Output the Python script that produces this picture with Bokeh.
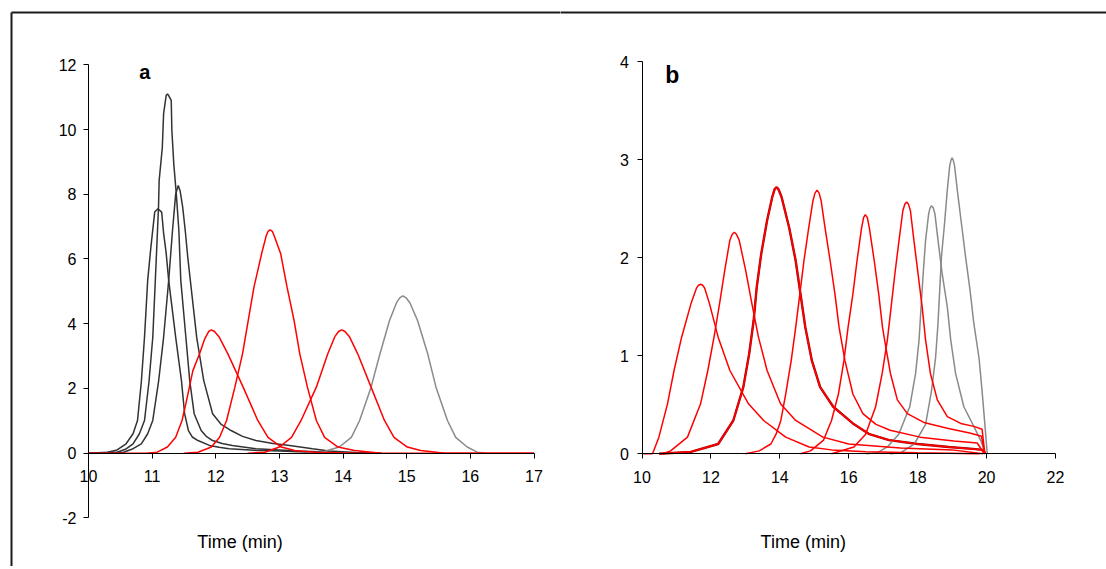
from bokeh.plotting import figure
from bokeh.models import Range1d, FixedTicker, Label
from bokeh.layouts import row
from bokeh.embed import file_html
from bokeh.resources import INLINE

FONT = "Liberation Sans"

# ---------------- panel a ----------------
a_xticks = [10, 11, 12, 13, 14, 15, 16, 17]
a_yticks = [-2, 0, 2, 4, 6, 8, 10, 12]
a_ylabels = ["-2", "0", "2", "4", "6", "8", "10", "12"]

a_b1_x = [10.00, 10.30, 10.45, 10.59, 10.70, 10.77, 10.83, 10.88, 10.93, 10.98, 11.04, 11.09,
          11.15, 11.18, 11.22, 11.26, 11.37, 11.46, 11.51, 11.57, 11.63, 11.72, 11.90, 12.05,
          12.21, 12.60, 13.00, 13.50, 14.00]
a_b1_y = [0, 0.03, 0.10, 0.29, 0.60, 1.01, 2.20, 3.58, 5.34, 6.36, 7.45, 7.55,
          7.45, 6.80, 6.19, 5.34, 3.58, 2.25, 1.22, 0.70, 0.50, 0.39, 0.24, 0.18,
          0.14, 0.09, 0.07, 0.03, 0.0]

a_b2_x = [10.00, 10.45, 10.58, 10.70, 10.80, 10.88, 10.95, 11.01, 11.05, 11.10, 11.11, 11.16,
          11.18, 11.22, 11.24, 11.26, 11.30, 11.31, 11.34, 11.38, 11.42, 11.45, 11.53, 11.59,
          11.66, 11.77, 11.85, 11.95, 12.10, 12.26, 12.63, 13.30, 13.90]
a_b2_y = [0, 0.03, 0.12, 0.29, 0.60, 1.01, 2.20, 3.58, 5.34, 7.60, 8.42, 9.45,
          10.49, 11.05, 11.10, 11.05, 10.90, 9.97, 8.94, 8.00, 6.88, 5.34, 3.58, 2.25,
          1.22, 0.70, 0.52, 0.39, 0.30, 0.24, 0.14, 0.07, 0.02]

a_b3_x = [10.00, 10.55, 10.68, 10.83, 10.93, 11.01, 11.10, 11.18, 11.26, 11.32, 11.37, 11.41,
          11.44, 11.48, 11.52, 11.56, 11.60, 11.70, 11.81, 11.95, 12.08, 12.24, 12.42, 12.63,
          12.90, 13.16, 13.52, 13.78, 14.20, 14.60]
a_b3_y = [0, 0.03, 0.12, 0.29, 0.60, 1.01, 2.20, 3.58, 5.34, 6.88, 8.01, 8.27,
          8.10, 7.60, 6.88, 6.05, 5.34, 3.58, 2.25, 1.22, 0.90, 0.70, 0.52, 0.39,
          0.30, 0.24, 0.14, 0.07, 0.02, 0.0]

a_r1_x = [10.00, 10.90, 11.08, 11.24, 11.37, 11.47, 11.53, 11.585, 11.64, 11.745, 11.83, 11.89,
          11.93, 11.98, 12.05, 12.19, 12.43, 12.66, 12.82, 13.03, 13.24, 13.55, 14.20, 17.00]
a_r1_y = [0, 0, 0.03, 0.19, 0.49, 1.01, 1.53, 2.04, 2.55, 3.07, 3.55, 3.76,
          3.81, 3.76, 3.60, 3.07, 2.04, 1.01, 0.49, 0.19, 0.08, 0.03, 0.0, 0.0]

a_r2_x = [11.50, 11.72, 11.93, 12.06, 12.17, 12.30, 12.42, 12.51, 12.60, 12.72, 12.79, 12.82,
          12.85, 12.89, 12.92, 13.02, 13.12, 13.23, 13.32, 13.44, 13.58, 13.71, 13.92, 14.18,
          14.60]
a_r2_y = [0, 0.03, 0.19, 0.49, 1.01, 2.04, 3.07, 4.10, 5.13, 6.16, 6.70, 6.85,
          6.90, 6.85, 6.70, 6.16, 5.13, 4.10, 3.07, 2.04, 1.01, 0.49, 0.19, 0.08,
          0.0]

a_r3_x = [12.50, 12.77, 13.00, 13.19, 13.34, 13.58, 13.76, 13.87, 13.93, 13.98, 14.03, 14.10,
          14.23, 14.44, 14.65, 14.80, 15.01, 15.22, 15.60, 17.00]
a_r3_y = [0, 0.03, 0.19, 0.49, 1.01, 2.04, 3.07, 3.60, 3.76, 3.81, 3.76, 3.60,
          3.07, 2.04, 1.01, 0.49, 0.19, 0.08, 0.0, 0.0]

a_g1_x = [13.40, 13.66, 13.94, 14.13, 14.26, 14.44, 14.58, 14.73, 14.84, 14.89, 14.94, 14.99,
          15.05, 15.17, 15.33, 15.46, 15.64, 15.77, 15.95, 16.11, 16.25]
a_g1_y = [0, 0.03, 0.19, 0.49, 1.01, 2.04, 3.07, 4.10, 4.65, 4.80, 4.86, 4.80,
          4.65, 4.10, 3.07, 2.04, 1.01, 0.49, 0.19, 0.03, 0.0]

# ---------------- panel b ----------------
b_xticks = [10, 12, 14, 16, 18, 20, 22]
b_yticks = [0, 1, 2, 3, 4]

b_p1_x = [10.00, 10.30, 10.34, 10.49, 10.74, 10.93, 11.15, 11.42, 11.58, 11.64, 11.70, 11.76,
          11.82, 11.96, 12.21, 12.55, 13.09, 13.53, 14.17, 14.85, 15.50, 16.50, 18.00, 19.80]
b_p1_y = [0, 0, 0.03, 0.17, 0.51, 0.85, 1.19, 1.53, 1.69, 1.72, 1.73, 1.72,
          1.69, 1.53, 1.19, 0.85, 0.51, 0.34, 0.17, 0.07, 0.04, 0.02, 0.01, 0.0]

b_p2_x = [10.60, 10.83, 11.32, 11.70, 11.91, 12.09, 12.25, 12.40, 12.55, 12.62, 12.68, 12.74,
          12.82, 13.01, 13.19, 13.38, 13.63, 14.02, 14.46, 15.25, 16.00, 17.50, 19.00, 19.90]
b_p2_y = [0, 0.03, 0.17, 0.51, 0.85, 1.19, 1.53, 1.87, 2.18, 2.24, 2.26, 2.24,
          2.18, 1.87, 1.53, 1.19, 0.85, 0.51, 0.34, 0.17, 0.10, 0.06, 0.04, 0.0]

b_p3_x = [10.50, 11.42, 12.21, 12.65, 12.94, 13.11, 13.24, 13.33, 13.46, 13.63, 13.78, 13.85,
          13.90, 13.96, 14.05, 14.27, 14.46, 14.60, 14.74, 14.93, 15.17, 15.55, 16.12, 16.60,
          17.17, 18.00, 18.90, 19.60, 19.90, 19.97]
b_p3_y = [0, 0.02, 0.10, 0.34, 0.68, 1.02, 1.36, 1.70, 2.04, 2.38, 2.62, 2.70,
          2.72, 2.70, 2.62, 2.31, 1.97, 1.63, 1.29, 0.95, 0.68, 0.48, 0.31, 0.20,
          0.14, 0.10, 0.07, 0.05, 0.04, 0.0]

b_p4_x = [13.00, 13.40, 13.74, 13.89, 14.03, 14.17, 14.33, 14.46, 14.58, 14.70, 14.84, 14.96,
          15.02, 15.08, 15.14, 15.20, 15.31, 15.46, 15.60, 15.72, 15.89, 16.12, 16.41, 16.79,
          17.20, 18.07, 19.05, 19.73, 19.93]
b_p4_y = [0, 0.03, 0.10, 0.20, 0.34, 0.61, 0.95, 1.29, 1.63, 1.97, 2.31, 2.58,
          2.66, 2.69, 2.66, 2.58, 2.31, 1.97, 1.63, 1.29, 0.95, 0.61, 0.41, 0.30,
          0.24, 0.17, 0.13, 0.11, 0.0]

b_p5_x = [14.60, 14.89, 15.27, 15.50, 15.70, 15.86, 15.98, 16.12, 16.24, 16.37, 16.43, 16.48,
          16.54, 16.60, 16.74, 16.87, 16.98, 17.07, 17.21, 17.41, 17.70, 18.18, 18.86, 19.54,
          19.85, 19.95]
b_p5_y = [0, 0.03, 0.14, 0.34, 0.61, 0.95, 1.29, 1.63, 1.97, 2.30, 2.41, 2.44,
          2.41, 2.30, 1.97, 1.63, 1.29, 1.10, 0.82, 0.55, 0.41, 0.32, 0.26, 0.21,
          0.18, 0.0]

b_p6_x = [15.50, 16.15, 16.49, 16.78, 16.97, 17.12, 17.23, 17.34, 17.46, 17.57, 17.63, 17.68,
          17.73, 17.79, 17.89, 18.01, 18.13, 18.23, 18.37, 18.57, 18.86, 19.25, 19.63, 19.87,
          19.95]
b_p6_y = [0, 0.07, 0.20, 0.48, 0.82, 1.16, 1.50, 1.84, 2.18, 2.48, 2.55, 2.57,
          2.55, 2.48, 2.18, 1.84, 1.50, 1.16, 0.82, 0.55, 0.38, 0.31, 0.28, 0.25,
          0.0]

b_g1_x = [16.50, 16.82, 17.12, 17.45, 17.77, 17.94, 18.04, 18.10, 18.16, 18.23, 18.32, 18.36,
          18.40, 18.45, 18.50, 18.59, 18.71, 18.86, 18.96, 19.10, 19.34, 19.63, 19.83, 19.97]
b_g1_y = [0, 0.01, 0.07, 0.20, 0.48, 0.82, 1.16, 1.50, 1.84, 2.18, 2.45, 2.51,
          2.53, 2.51, 2.45, 2.18, 1.84, 1.50, 1.16, 0.82, 0.48, 0.28, 0.135, 0.0]

b_g2_x = [17.20, 17.50, 17.90, 18.23, 18.40, 18.52, 18.59, 18.64, 18.69, 18.78, 18.86, 18.93,
          18.97, 19.00, 19.03, 19.07, 19.15, 19.27, 19.39, 19.52, 19.63, 19.78, 19.87, 19.95,
          20.02]
b_g2_y = [0, 0.01, 0.10, 0.30, 0.64, 0.98, 1.33, 1.67, 2.01, 2.35, 2.69, 2.94,
          3.00, 3.02, 3.00, 2.94, 2.69, 2.35, 2.01, 1.67, 1.33, 0.98, 0.64, 0.30,
          0.0]

BLACK = "#333333"
RED = "#ff0000"
GRAY = "#8a8a8a"
AXIS = "#000000"
FRAME = "#1a1a1a"
LW = 1.5

# ---------- layout targets (pixels on the page) ----------
H = 566
W1, W2 = 560, 546
# panel a: x=10 -> 88 px, x=17 -> 533.5 px ; y=12 -> 64.3 px, y=-2 -> 517.4 px
a_kx = (533.5 - 88.0) / 7.0
a_ky = (517.4 - 64.3) / 14.0
a_x0 = 10 - 88.0 / a_kx
a_y1 = 12 + 64.3 / a_ky
# panel b: x=10 -> 641.5 px, x=22 -> 1055 px ; y=4 -> 61.3 px, y=0 -> 453.3 px
b_kx = (1055.0 - 641.5) / 12.0
b_ky = (453.3 - 61.3) / 4.0
b_x0 = 10 - (641.5 - W1) / b_kx
b_y1 = 4 + 61.3 / b_ky
# outer box of the original figure: left edge 11 px, top edge 12 px
BOX_LEFT, BOX_TOP = 11.0, 12.0


def make_fig(width, x0, kx, y1, ky):
    p = figure(width=width, height=H,
               x_range=Range1d(x0, x0 + width / kx), y_range=Range1d(y1 - H / ky, y1),
               min_border=0, min_border_left=0, min_border_right=0,
               min_border_top=0, min_border_bottom=0,
               output_backend="svg", toolbar_location=None)
    p.grid.visible = False
    p.outline_line_color = None
    p.background_fill_color = "white"
    p.border_fill_color = "white"
    for ax in (p.xaxis, p.yaxis):
        ax.major_tick_out = 5
        ax.major_tick_in = 0
        ax.minor_tick_line_color = None
        ax.axis_line_color = AXIS
        ax.axis_line_width = 1
        ax.major_tick_line_color = AXIS
        ax.major_label_text_font = FONT
        ax.major_label_text_font_size = "16px"
        ax.major_label_text_color = "#000000"
    p.yaxis.major_label_standoff = 7
    p.xaxis.major_label_standoff = 12
    return p


# ---------- left figure ----------
p1 = make_fig(W1, a_x0, a_kx, a_y1, a_ky)
p1.xaxis.ticker = FixedTicker(ticks=a_xticks)
p1.yaxis.ticker = FixedTicker(ticks=a_yticks)
p1.yaxis.major_label_overrides = {t: s for t, s in zip(a_yticks, a_ylabels)}
p1.xaxis.fixed_location = 0
p1.yaxis.fixed_location = 10
p1.xaxis.bounds = (10, 17)
p1.yaxis.bounds = (-2, 12)

# outer box lines (top and left edges)
a_bx = a_x0 + BOX_LEFT / a_kx
a_by = a_y1 - BOX_TOP / a_ky
p1.segment(x0=[a_bx, a_bx], y0=[a_by, a_by],
           x1=[a_x0 + W1 / a_kx + 1, a_bx], y1=[a_by, a_y1 - H / a_ky - 1],
           line_color=FRAME, line_width=2)

for xs, ys in [(a_b1_x, a_b1_y), (a_b2_x, a_b2_y), (a_b3_x, a_b3_y)]:
    p1.line(xs, ys, line_color=BLACK, line_width=LW)
p1.line(a_g1_x, a_g1_y, line_color=GRAY, line_width=LW)
for xs, ys in [(a_r1_x, a_r1_y), (a_r2_x, a_r2_y), (a_r3_x, a_r3_y)]:
    p1.line(xs, ys, line_color=RED, line_width=LW)

p1.add_layout(Label(x=10.885, y=11.78, text="a", text_font=FONT, text_font_size="20px",
                    text_font_style="bold", text_align="center", text_baseline="alphabetic",
                    text_color="#000000"))
p1.add_layout(Label(x=12.38, y=-2.73, text="Time (min)", text_font=FONT,
                    text_font_size="18px", text_align="center", text_baseline="alphabetic",
                    text_color="#000000"))

# ---------- right figure ----------
p2 = make_fig(W2, b_x0, b_kx, b_y1, b_ky)
p2.xaxis.ticker = FixedTicker(ticks=b_xticks)
p2.yaxis.ticker = FixedTicker(ticks=b_yticks)
p2.xaxis.fixed_location = 0
p2.yaxis.fixed_location = 10
p2.xaxis.bounds = (10, 22)
p2.yaxis.bounds = (0, 4)
p2.yaxis.major_label_standoff = 8

b_by = b_y1 - BOX_TOP / b_ky
p2.segment(x0=[b_x0 - 1], y0=[b_by], x1=[b_x0 + W2 / b_kx + 1], y1=[b_by],
           line_color=FRAME, line_width=2)

p2.line(b_p3_x, b_p3_y, line_color="#a00000", line_width=2.4)
for xs, ys in [(b_g1_x, b_g1_y), (b_g2_x, b_g2_y)]:
    p2.line(xs, ys, line_color=GRAY, line_width=LW)
for xs, ys in [(b_p1_x, b_p1_y), (b_p2_x, b_p2_y), (b_p3_x, b_p3_y), (b_p4_x, b_p4_y),
               (b_p5_x, b_p5_y), (b_p6_x, b_p6_y)]:
    p2.line(xs, ys, line_color=RED, line_width=LW)

p2.add_layout(Label(x=10.88, y=3.866, text="b", text_font=FONT, text_font_size="23px",
                    text_font_style="bold", text_align="center", text_baseline="alphabetic",
                    text_color="#000000"))
p2.add_layout(Label(x=14.68, y=-0.895, text="Time (min)", text_font=FONT,
                    text_font_size="18px", text_align="center", text_baseline="alphabetic",
                    text_color="#000000"))

layout = row(p1, p2)

open("out.html", "w").write(file_html(layout, INLINE))
